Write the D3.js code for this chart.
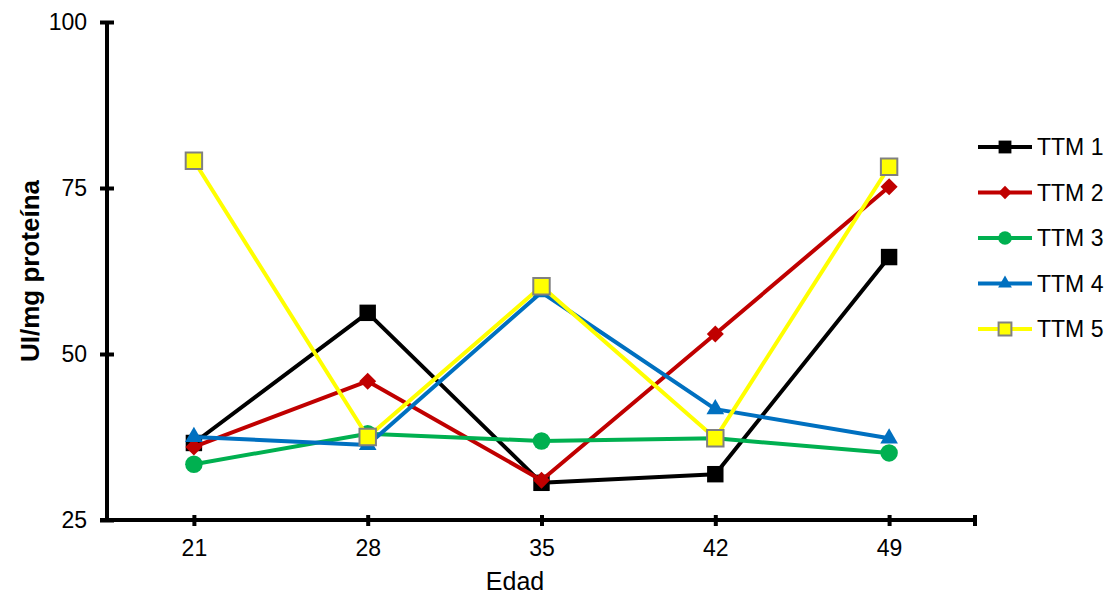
<!DOCTYPE html>
<html>
<head>
<meta charset="utf-8">
<script src="https://cdn.jsdelivr.net/npm/d3@7/dist/d3.min.js"></script>
<style>
  html, body { margin: 0; padding: 0; background: #fff; }
  svg { display: block; font-family: "Liberation Sans", Arial, sans-serif; }
</style>
</head>
<body>
<svg id="chart" width="1111" height="597"></svg>
<script>
// Sampling ages (days)
const ages = [21, 28, 35, 42, 49];

// Enzyme activity, UI/mg proteína, per treatment
const ttm1 = [36.6, 56.2, 30.6, 31.9, 64.6];
const ttm2 = [36.0, 45.9, 31.0, 53.0, 75.2];
const ttm3 = [33.4, 38.0, 36.9, 37.3, 35.1];
const ttm4 = [37.5, 36.3, 59.3, 41.7, 37.3];
const ttm5 = [79.1, 37.5, 60.2, 37.3, 78.2];

const seriesNames = ["TTM 1", "TTM 2", "TTM 3", "TTM 4", "TTM 5"];
const yTicks = [25, 50, 75, 100];

const series = [
  { name: seriesNames[0], values: ttm1, color: "#000000", shape: "square", fill: "#000000", stroke: "none" },
  { name: seriesNames[1], values: ttm2, color: "#C00000", shape: "diamond", fill: "#C00000", stroke: "none" },
  { name: seriesNames[2], values: ttm3, color: "#00B050", shape: "circle", fill: "#00B050", stroke: "none" },
  { name: seriesNames[3], values: ttm4, color: "#0070C0", shape: "triangle", fill: "#0070C0", stroke: "none" },
  { name: seriesNames[4], values: ttm5, color: "#FFFF00", shape: "square", fill: "#FFFF00", stroke: "#808080" }
];

const svg = d3.select("#chart");
const plotLeft = 107, plotRight = 976, plotTop = 22, plotBottom = 520;

const x = d3.scalePoint().domain(ages).range([plotLeft, plotRight]).padding(0.5);
const y = d3.scaleLinear().domain([25, 100]).range([plotBottom, plotTop]);

// Diamonds are squares turned by 45 degrees
const symbolType = {
  square: d3.symbolSquare,
  diamond: d3.symbolSquare,
  circle: d3.symbolCircle,
  triangle: d3.symbolTriangle
};
const symbolArea = { square: 270, diamond: 145, circle: 240, triangle: 135 };

function marker(sel, s, scale) {
  sel.attr("d", d3.symbol().type(symbolType[s.shape]).size(symbolArea[s.shape] * scale * scale)())
    .attr("fill", s.fill)
    .attr("stroke", s.stroke)
    .attr("stroke-width", s.stroke === "none" ? 0 : 2);
}
const rot = s => (s.shape === "diamond" ? " rotate(45)" : "");

// Y axis
const yAxis = svg.append("g").attr("transform", `translate(${plotLeft},0)`)
  .call(d3.axisLeft(y).tickValues(yTicks).tickSize(0).tickPadding(20));
yAxis.select(".domain").attr("stroke", "#000").attr("stroke-width", 4)
  .attr("d", `M0,${plotTop}V${plotBottom}`);
yAxis.selectAll(".tick line").attr("x1", -7).attr("x2", 7)
  .attr("stroke", "#000").attr("stroke-width", 4);
yAxis.selectAll(".tick text").style("font-size", "23px").attr("fill", "#000")
  .style("font-family", "Liberation Sans, Arial, sans-serif");

// X axis
const xAxis = svg.append("g").attr("transform", `translate(0,${plotBottom})`)
  .call(d3.axisBottom(x).tickSize(0).tickPadding(20));
xAxis.select(".domain").attr("stroke", "#000").attr("stroke-width", 4)
  .attr("d", `M${plotLeft - 7},0H${plotRight}`);
xAxis.selectAll(".tick line").attr("y1", -5).attr("y2", 6)
  .attr("stroke", "#000").attr("stroke-width", 4);
xAxis.append("line").attr("x1", plotRight - 1).attr("x2", plotRight - 1).attr("y1", -5).attr("y2", 6)
  .attr("stroke", "#000").attr("stroke-width", 4);
xAxis.selectAll(".tick text").style("font-size", "23px").attr("fill", "#000")
  .style("font-family", "Liberation Sans, Arial, sans-serif");

// Axis titles
svg.append("text")
  .attr("x", 515).attr("y", 590)
  .attr("text-anchor", "middle").attr("font-size", 25).attr("fill", "#000")
  .text("Edad");

svg.append("text")
  .attr("transform", `translate(39,271) rotate(-90)`)
  .attr("text-anchor", "middle").attr("font-size", 26).attr("font-weight", "bold").attr("fill", "#000")
  .text("UI/mg proteína");

// Lines and markers
const line = d3.line().x((d, i) => x(ages[i])).y(d => y(d));

series.forEach(s => {
  const g = svg.append("g");
  g.append("path").datum(s.values)
    .attr("d", line).attr("fill", "none")
    .attr("stroke", s.color).attr("stroke-width", 4).attr("stroke-linejoin", "round");
  g.selectAll("path.pt").data(s.values).join("path")
    .attr("class", "pt")
    .attr("transform", (d, i) => `translate(${x(ages[i])},${y(d)})${rot(s)}`)
    .call(sel => marker(sel, s, 1));
});

// Legend
const legend = svg.append("g").attr("transform", "translate(978,147)");
series.forEach((s, i) => {
  const row = legend.append("g").attr("transform", `translate(0,${i * 45.5})`);
  row.append("line").attr("x1", 0).attr("x2", 54).attr("y1", 0).attr("y2", 0)
    .attr("stroke", s.color).attr("stroke-width", 4);
  row.append("path").attr("transform", `translate(27,0)${rot(s)}`).call(sel => marker(sel, s, 0.78));
  row.append("text").attr("x", 59).attr("y", 0).attr("dy", "0.36em")
    .attr("font-size", 23).attr("fill", "#000").text(s.name);
});
</script>
</body>
</html>
